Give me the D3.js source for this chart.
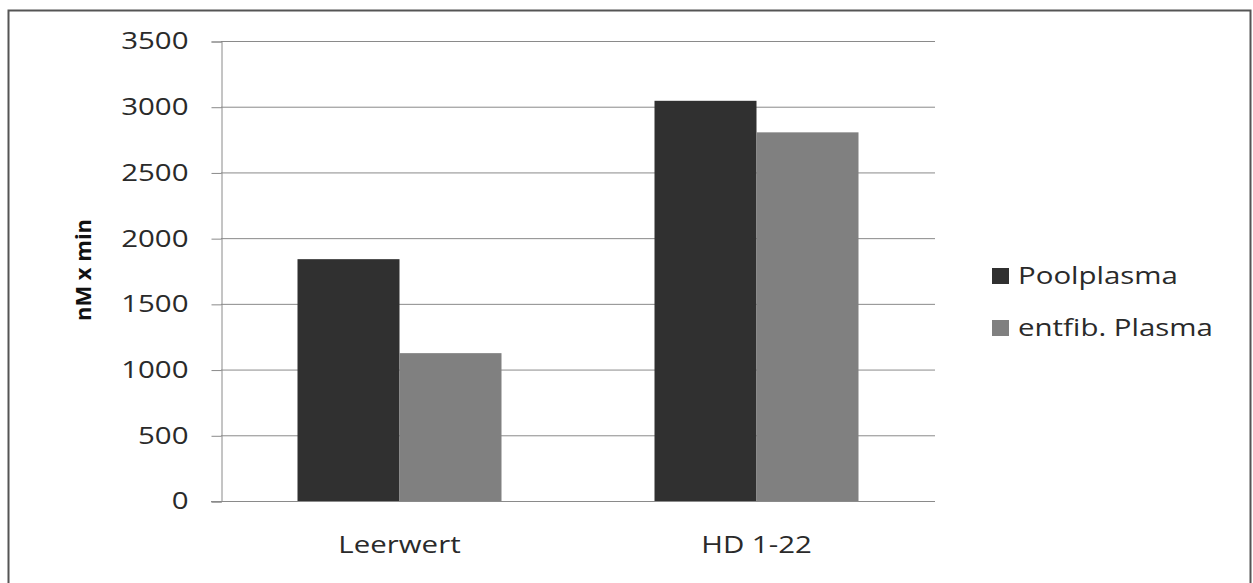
<!DOCTYPE html>
<html><head><meta charset="utf-8">
<script src="https://cdn.jsdelivr.net/npm/d3@7"></script>
<style>body{margin:0;background:#fff}svg{display:block}text{font-family:"Open Sans",sans-serif}</style>
</head><body><svg id="c" width="1253" height="583"></svg>
<script>
const categories = ["Leerwert", "HD 1-22"];
const seriesNames = ["Poolplasma", "entfib. Plasma"];
const poolplasma = [1840, 3045];
const entfibPlasma = [1125, 2805];
const yTicks = [0, 500, 1000, 1500, 2000, 2500, 3000, 3500];
const colors = ["#303030", "#808080"];
const yLabel = "nM x min";

const FS = 23, SX = 1.28;
function stretch(sel) {
  sel.each(function () {
    const t = d3.select(this);
    const x0 = +t.attr("x") || 0;
    t.attr("transform", `translate(${x0},0) scale(${SX},1) translate(${-x0},0)`);
  });
}

const svg = d3.select("#c");
svg.append("rect").attr("x", 8.5).attr("y", 10.5).attr("width", 1242).attr("height", 600)
  .attr("fill", "none").attr("stroke", "#555").attr("stroke-width", 2);

const pLeft = 221, pRight = 935, pTop = 41, pBottom = 501;
const x = d3.scaleBand().domain(categories).range([pLeft, pRight]).paddingInner(0).paddingOuter(0);
const y = d3.scaleLinear().domain([0, 3500]).range([pBottom, pTop]);
const inner = d3.scaleBand().domain(seriesNames).range([0, x.bandwidth()]).paddingInner(0).paddingOuter(0.75);

// gridlines
svg.append("g").selectAll("line").data(yTicks.filter(d => d > 0)).join("line")
  .attr("x1", pLeft).attr("x2", pRight).attr("y1", d => y(d) + 0.5).attr("y2", d => y(d) + 0.5)
  .attr("stroke", "#8a8a8a").attr("stroke-width", 1);

// bars
const series = [poolplasma, entfibPlasma];
series.forEach((vals, si) => {
  svg.append("g").selectAll("rect").data(categories).join("rect")
    .attr("x", d => x(d) + inner(seriesNames[si]))
    .attr("width", inner.bandwidth())
    .attr("y", (d, i) => y(vals[i]))
    .attr("height", (d, i) => pBottom - y(vals[i]))
    .attr("fill", colors[si]);
});

// y axis
const yAxis = d3.axisLeft(y).tickValues(yTicks).tickSize(10).tickPadding(23).tickFormat(d3.format("d"));
const gy = svg.append("g").attr("transform", `translate(${pLeft + 0.5},0.5)`).call(yAxis);
gy.select(".domain").attr("stroke", "#8a8a8a");
gy.selectAll(".tick line").attr("stroke", "#8a8a8a");
gy.selectAll(".tick text").attr("font-size", FS).attr("fill", "#2a2a2a").attr("font-family", "Open Sans").call(stretch);

// x axis
const xAxis = d3.axisBottom(x).tickSize(0).tickPadding(35);
const gx = svg.append("g").attr("transform", `translate(0,${pBottom + 0.5})`).call(xAxis);
gx.select(".domain").attr("stroke", "#8a8a8a").attr("d", `M${pLeft - 10},0H${pRight}`);
gx.selectAll(".tick text").attr("font-size", FS).attr("fill", "#2a2a2a").attr("font-family", "Open Sans").call(stretch);

// y label
svg.append("text").attr("transform", `translate(91,270) rotate(-90)`)
  .attr("text-anchor", "middle").attr("font-size", 22).attr("font-weight", "bold").attr("fill", "#111")
  .text(yLabel);

// legend
const lg = svg.append("g").selectAll("g").data(seriesNames).join("g")
  .attr("transform", (d, i) => `translate(992,${276 + i * 52})`);
lg.append("rect").attr("x", 0).attr("y", -8).attr("width", 17).attr("height", 16).attr("fill", (d, i) => colors[i]);
lg.append("text").attr("x", 26).attr("y", 0).attr("dy", "0.35em").attr("font-size", FS).attr("fill", "#2a2a2a").text(d => d).call(stretch);
</script></body></html>
